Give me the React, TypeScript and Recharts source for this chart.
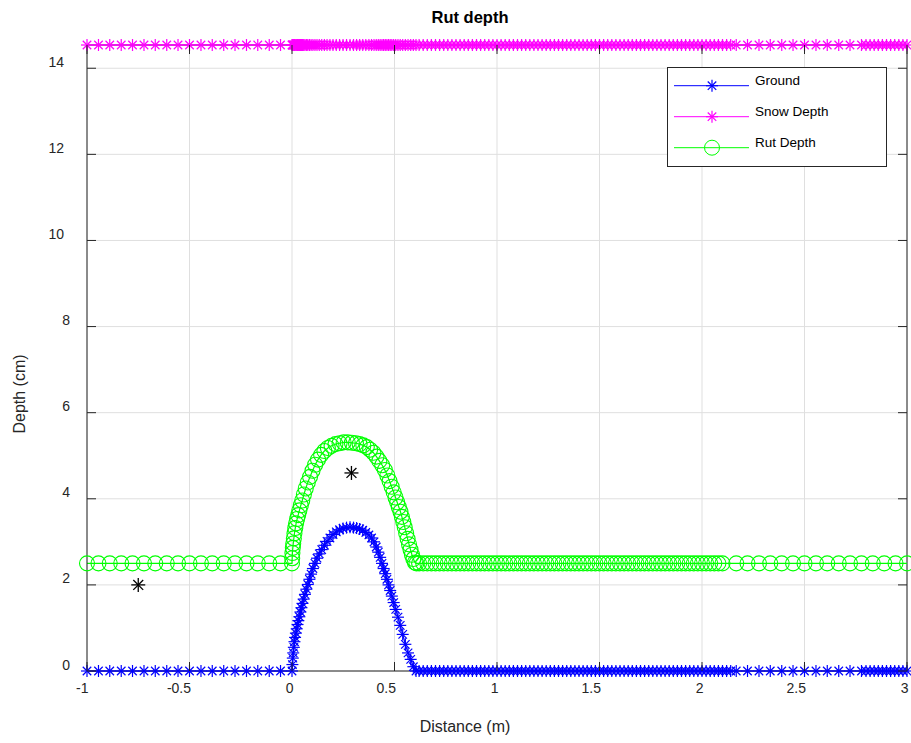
import React from 'react';
import { ComposedChart, Line, XAxis, YAxis, CartesianGrid, Legend, ReferenceLine } from 'recharts';

// ---------- data ----------
const xTicks = [-1, -0.5, 0, 0.5, 1, 1.5, 2, 2.5, 3];
const yTicks = [0, 2, 4, 6, 8, 10, 12, 14];
const xDomain = [-1, 3];
const yDomain = [0, 14.54];

const seriesNames = ['Ground', 'Snow Depth', 'Rut Depth'];
const seriesColors = ['#0000ff', '#ff00ff', '#00ff00'];

const GROUND_LEVEL = 0;
const SNOW_LEVEL = 14.54;
const RUT_LEVEL = 2.5;

// sample positions left of the rut (shared by all series)
const leftX = [-1, -0.944, -0.889, -0.833, -0.778, -0.722, -0.667, -0.611, -0.556, -0.5, -0.444, -0.389, -0.333, -0.278, -0.222, -0.167, -0.111, -0.056];

// ground bump
const groundBumpX = [0, 0.002, 0.004, 0.006, 0.009, 0.012, 0.015, 0.019, 0.023, 0.027, 0.031, 0.036, 0.041, 0.046, 0.051, 0.057, 0.063, 0.07, 0.077, 0.085, 0.093, 0.102, 0.112, 0.122, 0.133, 0.145, 0.158, 0.171, 0.185, 0.2, 0.216, 0.232, 0.249, 0.266, 0.283, 0.3, 0.315, 0.33, 0.345, 0.36, 0.375, 0.388, 0.4, 0.411, 0.421, 0.43, 0.439, 0.447, 0.455, 0.463, 0.471, 0.479, 0.487, 0.496, 0.506, 0.517, 0.528, 0.54, 0.553, 0.566, 0.579, 0.592, 0.605];
const groundBumpY = [0, 0.15, 0.3, 0.42, 0.55, 0.68, 0.78, 0.88, 0.98, 1.08, 1.17, 1.26, 1.37, 1.47, 1.57, 1.67, 1.78, 1.9, 2.01, 2.13, 2.25, 2.38, 2.5, 2.62, 2.72, 2.82, 2.92, 3.01, 3.09, 3.17, 3.23, 3.28, 3.31, 3.33, 3.34, 3.33, 3.32, 3.3, 3.27, 3.22, 3.16, 3.09, 3.0, 2.88, 2.76, 2.64, 2.5, 2.38, 2.26, 2.13, 2.0, 1.87, 1.74, 1.59, 1.43, 1.25, 1.06, 0.85, 0.62, 0.42, 0.27, 0.1, 0];
// flat ground after bump (also snow sample positions)
const groundFlatX = [0.62, 0.64, 0.66, 0.68, 0.7, 0.72, 0.74, 0.76, 0.78, 0.8, 0.82, 0.84, 0.86, 0.88, 0.9, 0.92, 0.94, 0.96, 0.98, 1, 1.02, 1.04, 1.06, 1.08, 1.1, 1.12, 1.14, 1.16, 1.18, 1.2, 1.22, 1.24, 1.26, 1.28, 1.3, 1.32, 1.34, 1.36, 1.38, 1.4, 1.42, 1.44, 1.46, 1.48, 1.5, 1.52, 1.54, 1.56, 1.58, 1.6, 1.62, 1.64, 1.66, 1.68, 1.7, 1.72, 1.74, 1.76, 1.78, 1.8, 1.82, 1.84, 1.86, 1.88, 1.9, 1.92, 1.94, 1.96, 1.98, 2, 2.02, 2.04, 2.06, 2.08, 2.1, 2.12, 2.14, 2.167, 2.222, 2.278, 2.333, 2.389, 2.444, 2.5, 2.556, 2.611, 2.667, 2.722, 2.778, 2.8, 2.82, 2.84, 2.86, 2.88, 2.9, 2.92, 2.94, 2.96, 2.98, 3];

// rut bump
const rutBumpX = [0, 0.001, 0.002, 0.004, 0.006, 0.009, 0.012, 0.016, 0.02, 0.025, 0.03, 0.036, 0.043, 0.05, 0.058, 0.067, 0.077, 0.088, 0.1, 0.113, 0.127, 0.142, 0.158, 0.175, 0.193, 0.212, 0.232, 0.252, 0.272, 0.292, 0.312, 0.33, 0.348, 0.365, 0.381, 0.397, 0.412, 0.426, 0.44, 0.453, 0.465, 0.476, 0.486, 0.496, 0.505, 0.513, 0.521, 0.529, 0.536, 0.543, 0.55, 0.557, 0.564, 0.571, 0.578, 0.585, 0.592, 0.6, 0.607];
const rutBumpY = [2.5, 2.62, 2.74, 2.86, 2.96, 3.08, 3.2, 3.32, 3.43, 3.53, 3.62, 3.73, 3.85, 3.96, 4.1, 4.24, 4.38, 4.51, 4.65, 4.79, 4.91, 5.02, 5.11, 5.18, 5.23, 5.27, 5.29, 5.31, 5.31, 5.3, 5.29, 5.27, 5.24, 5.2, 5.14, 5.07, 4.98, 4.88, 4.78, 4.67, 4.54, 4.41, 4.28, 4.15, 4.03, 3.92, 3.81, 3.7, 3.58, 3.46, 3.34, 3.2, 3.07, 2.94, 2.82, 2.7, 2.6, 2.52, 2.5];
const rutFlatX = [0.62, 0.64, 0.66, 0.68, 0.7, 0.72, 0.74, 0.76, 0.78, 0.8, 0.82, 0.84, 0.86, 0.88, 0.9, 0.92, 0.94, 0.96, 0.98, 1, 1.02, 1.04, 1.06, 1.08, 1.1, 1.12, 1.14, 1.16, 1.18, 1.2, 1.22, 1.24, 1.26, 1.28, 1.3, 1.32, 1.34, 1.36, 1.38, 1.4, 1.42, 1.44, 1.46, 1.48, 1.5, 1.52, 1.54, 1.56, 1.58, 1.6, 1.62, 1.64, 1.66, 1.68, 1.7, 1.72, 1.74, 1.76, 1.78, 1.8, 1.82, 1.84, 1.86, 1.88, 1.9, 1.92, 1.94, 1.96, 1.98, 2, 2.02, 2.04, 2.06, 2.08, 2.1, 2.167, 2.222, 2.278, 2.333, 2.389, 2.444, 2.5, 2.556, 2.611, 2.667, 2.722, 2.778, 2.833, 2.889, 2.944, 3];

// extra single black markers
const markerX = [-0.75, 0.29];
const markerY = [2.0, 4.6];

// ---------- build series ----------
const groundPts = [
  ...leftX.map((x) => ({ x, y: GROUND_LEVEL })),
  ...groundBumpX.map((x, i) => ({ x, y: groundBumpY[i] })),
  ...groundFlatX.map((x) => ({ x, y: GROUND_LEVEL })),
];
const snowPts = [...leftX, ...groundBumpX, ...groundFlatX].map((x) => ({ x, y: SNOW_LEVEL }));
const rutPts = [
  ...leftX.map((x) => ({ x, y: RUT_LEVEL })),
  ...rutBumpX.map((x, i) => ({ x, y: rutBumpY[i] })),
  ...rutFlatX.map((x) => ({ x, y: RUT_LEVEL })),
];
const markerPts = markerX.map((x, i) => ({ x, y: markerY[i] }));

// ---------- layout ----------
const W = 911;
const H = 743;
const PLOT_LEFT = 87;
const PLOT_TOP = 45;
const PLOT_RIGHT = 907;
const PLOT_BOTTOM = 671;
const Y_AXIS_W = 60;
const X_AXIS_H = 30;
const PLOT_W = PLOT_RIGHT - PLOT_LEFT;
const PLOT_H = PLOT_BOTTOM - PLOT_TOP;
const AXIS_COLOR = '#262626';
const FONT = '"Liberation Sans", Arial, Helvetica, sans-serif';
const STAR_R = 6;

function Asterisk({ cx, cy, r, color, sw = 1.2 }: { cx: number; cy: number; r: number; color: string; sw?: number }) {
  const d = r * 0.7071;
  return (
    <g stroke={color} strokeWidth={sw} fill="none">
      <line x1={cx - r} y1={cy} x2={cx + r} y2={cy} />
      <line x1={cx} y1={cy - r} x2={cx} y2={cy + r} />
      <line x1={cx - d} y1={cy - d} x2={cx + d} y2={cy + d} />
      <line x1={cx - d} y1={cy + d} x2={cx + d} y2={cy - d} />
    </g>
  );
}

function YTick(props: any) {
  const { x, y, payload } = props;
  const label = String(payload.value);
  const tx = label.length > 1 ? x - 23 : x - 17;
  return (
    <g>
      <line x1={x} x2={x + 9} y1={y} y2={y} stroke={AXIS_COLOR} />
      <line x1={x + PLOT_W} x2={x + PLOT_W - 9} y1={y} y2={y} stroke={AXIS_COLOR} />
      <text x={tx} y={y - 1.5} textAnchor="end" fontSize={14} fontFamily={FONT} fill={AXIS_COLOR}>
        {label}
      </text>
    </g>
  );
}

function XTick(props: any) {
  const { x, y, payload } = props;
  const label = String(payload.value);
  return (
    <g>
      <line x1={x} x2={x} y1={y} y2={y - 9} stroke={AXIS_COLOR} />
      <line x1={x} x2={x} y1={y - PLOT_H} y2={y - PLOT_H + 9} stroke={AXIS_COLOR} />
      <text x={x + 1.5} y={y + 22} textAnchor="end" fontSize={14} fontFamily={FONT} fill={AXIS_COLOR}>
        {label}
      </text>
    </g>
  );
}

function LegendBox() {
  const rowsY = [18.7, 49.7, 80.7];
  return (
    <svg width={220} height={100} style={{ display: 'block' }}>
      <rect x={0.5} y={0.5} width={219} height={99} fill="#ffffff" stroke={AXIS_COLOR} />
      {seriesNames.map((n, i) => (
        <g key={n}>
          <line x1={7} x2={82} y1={rowsY[i]} y2={rowsY[i]} stroke={seriesColors[i]} />
          {i < 2 ? (
            <Asterisk cx={45} cy={rowsY[i]} r={STAR_R} color={seriesColors[i]} />
          ) : (
            <circle cx={45} cy={rowsY[i]} r={7.5} fill="none" stroke={seriesColors[i]} />
          )}
          <text x={88} y={rowsY[i] - 1} fontSize={13.5} fontFamily={FONT} fill="#000">
            {n}
          </text>
        </g>
      ))}
    </svg>
  );
}

export default function App() {
  return (
    <div style={{ position: 'absolute', left: 0, top: 0, width: W, height: H, background: '#fff' }}>
      <ComposedChart
        width={W}
        height={H}
        margin={{ top: PLOT_TOP, right: W - PLOT_RIGHT, bottom: H - PLOT_BOTTOM - X_AXIS_H, left: PLOT_LEFT - Y_AXIS_W }}
      >
        <CartesianGrid stroke="#dfdfdf" strokeWidth={1} />
        <XAxis
          type="number"
          dataKey="x"
          domain={xDomain}
          ticks={xTicks}
          height={X_AXIS_H}
          tickSize={0}
          tickMargin={0}
          tickLine={false}
          axisLine={{ stroke: AXIS_COLOR }}
          tick={<XTick />}
          interval={0}
        />
        <YAxis
          type="number"
          dataKey="y"
          domain={yDomain}
          ticks={yTicks}
          width={Y_AXIS_W}
          tickSize={0}
          tickMargin={0}
          tickLine={false}
          axisLine={{ stroke: AXIS_COLOR }}
          tick={<YTick />}
          interval={0}
        />
        <ReferenceLine x={3} stroke={AXIS_COLOR} />
        <ReferenceLine y={SNOW_LEVEL} stroke={AXIS_COLOR} />
        <Line
          data={groundPts}
          dataKey="y"
          name={seriesNames[0]}
          type="linear"
          stroke={seriesColors[0]}
          strokeWidth={1.2}
          isAnimationActive={false}
          activeDot={false}
          dot={(p: any) => <Asterisk key={`g${p.index}`} cx={p.cx} cy={p.cy} r={STAR_R} color={seriesColors[0]} />}
        />
        <Line
          data={snowPts}
          dataKey="y"
          name={seriesNames[1]}
          type="linear"
          stroke={seriesColors[1]}
          strokeWidth={1.2}
          isAnimationActive={false}
          activeDot={false}
          dot={(p: any) => <Asterisk key={`s${p.index}`} cx={p.cx} cy={p.cy} r={STAR_R} color={seriesColors[1]} />}
        />
        <Line
          data={rutPts}
          dataKey="y"
          name={seriesNames[2]}
          type="linear"
          stroke={seriesColors[2]}
          strokeWidth={1.2}
          isAnimationActive={false}
          activeDot={false}
          dot={(p: any) => (
            <circle key={`r${p.index}`} cx={p.cx} cy={p.cy} r={7.5} fill="none" stroke={seriesColors[2]} strokeWidth={1.1} />
          )}
        />
        <Line
          data={markerPts}
          dataKey="y"
          name="marker"
          type="linear"
          stroke="none"
          strokeWidth={0}
          isAnimationActive={false}
          activeDot={false}
          legendType="none"
          dot={(p: any) => <Asterisk key={`m${p.index}`} cx={p.cx} cy={p.cy} r={7} color="#000000" sw={1.3} />}
        />
        <Legend
          layout="vertical"
          align="center"
          verticalAlign="middle"
          wrapperStyle={{ left: 667, top: 67, width: 220, height: 100 }}
          content={() => <LegendBox />}
        />
      </ComposedChart>
      <svg width={W} height={H} style={{ position: 'absolute', left: 0, top: 0, pointerEvents: 'none' }}>
        <text x={470} y={23.3} textAnchor="middle" fontSize={16.5} fontWeight="bold" fontFamily={FONT} fill="#000">
          Rut depth
        </text>
        <text x={465} y={731.7} textAnchor="middle" fontSize={16} fontFamily={FONT} fill={AXIS_COLOR}>
          Distance (m)
        </text>
        <text x={25} y={394} textAnchor="middle" fontSize={16} fontFamily={FONT} fill={AXIS_COLOR} transform="rotate(-90, 25, 394)">
          Depth (cm)
        </text>
      </svg>
    </div>
  );
}
